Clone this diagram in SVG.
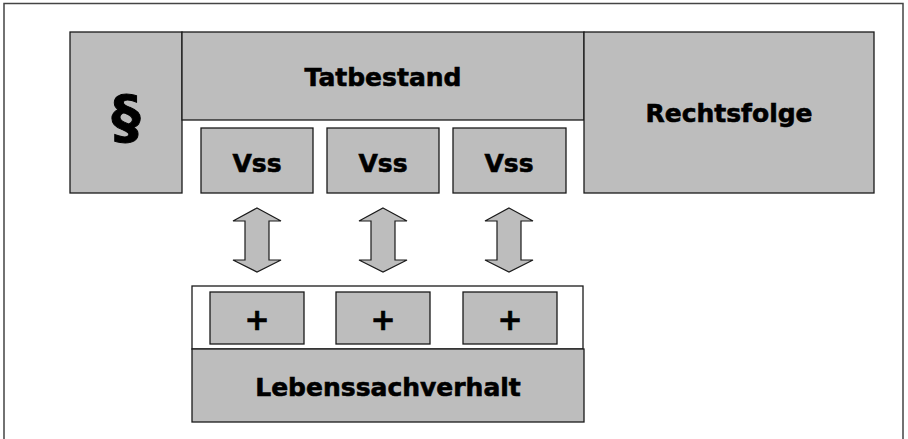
<svg xmlns="http://www.w3.org/2000/svg" width="908" height="439" viewBox="0 0 908 439">
<style>
.box{fill:#bdbdbd;stroke:#1a1a1a;stroke-width:1.3}
.arrow{fill:#bdbdbd;stroke:#1a1a1a;stroke-width:1.2;stroke-linejoin:miter}
.t{font-family:"DejaVu Sans",Verdana,sans-serif;font-weight:bold;font-size:25px;fill:#000;stroke:#000;stroke-width:0.6;text-anchor:middle}
</style>
<rect x="0" y="0" width="908" height="439" fill="#fff"/>
<path d="M4,445 V3.5 H903 V445" fill="none" stroke="#444" stroke-width="1.5"/>
<g id="paragraph">
<rect class="box" x="70" y="32" width="112" height="161"/>
<text class="t" x="126" y="137" style="font-size:58px;stroke-width:1">§</text>
</g>
<g id="tatbestand">
<rect class="box" x="182" y="32" width="402" height="88"/>
<text class="t" x="383" y="86">Tatbestand</text>
</g>
<g id="rechtsfolge">
<rect class="box" x="584" y="32" width="290" height="161"/>
<text class="t" x="729" y="122">Rechtsfolge</text>
</g>
<g id="vss1">
<rect class="box" x="201" y="128" width="112" height="65"/>
<text class="t" x="257" y="172">Vss</text>
</g>
<g id="vss2">
<rect class="box" x="327" y="128" width="112" height="65"/>
<text class="t" x="383" y="172">Vss</text>
</g>
<g id="vss3">
<rect class="box" x="453" y="128" width="113" height="65"/>
<text class="t" x="509" y="172">Vss</text>
</g>
<g id="connectors">
<path class="arrow" d="M257,208 L281,221 L269,221 L269,260 L281,260 L257,272 L233,260 L245,260 L245,221 L233,221 Z"/>
<path class="arrow" d="M383,208 L407,221 L395,221 L395,260 L407,260 L383,272 L359,260 L371,260 L371,221 L359,221 Z"/>
<path class="arrow" d="M509,208 L533,221 L521,221 L521,260 L533,260 L509,272 L485,260 L497,260 L497,221 L485,221 Z"/>
</g>
<g id="lebenssachverhalt">
<rect x="192" y="286" width="391" height="63" fill="#fff" stroke="#1a1a1a" stroke-width="1.3"/>
<rect class="box" x="192" y="349" width="392" height="73"/>
<text class="t" x="388" y="396">Lebenssachverhalt</text>
</g>
<g id="plus1">
<rect class="box" x="210" y="292" width="94" height="52"/>
<text class="t" x="257" y="330" style="font-size:30px">+</text>
</g>
<g id="plus2">
<rect class="box" x="336" y="292" width="94" height="52"/>
<text class="t" x="383" y="330" style="font-size:30px">+</text>
</g>
<g id="plus3">
<rect class="box" x="463" y="292" width="94" height="52"/>
<text class="t" x="510" y="330" style="font-size:30px">+</text>
</g>
</svg>
